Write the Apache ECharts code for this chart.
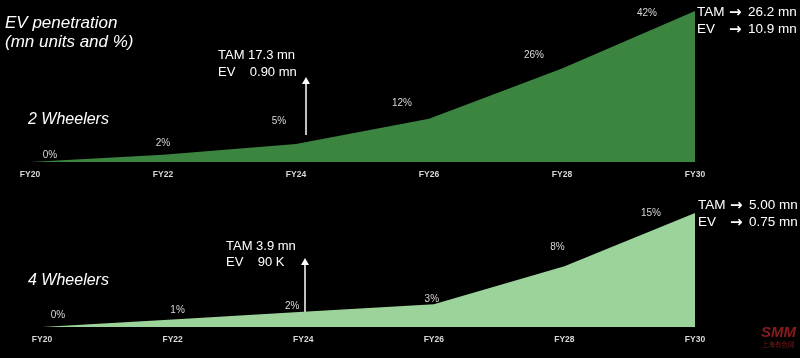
<!DOCTYPE html>
<html><head><meta charset="utf-8">
<script src="https://cdn.jsdelivr.net/npm/echarts@6/dist/echarts.min.js"></script>
<style>html,body{margin:0;padding:0;background:#000;}#c{width:800px;height:358px;}</style>
</head><body><div id="c"></div>
<script>
const years = ['FY20','FY22','FY24','FY26','FY28','FY30'];
const twoWheelerPct = [0, 2, 5, 12, 26, 42];
const fourWheelerPct = [0, 1, 2, 3, 8, 15];

// label offsets (style only)
const topOffsets = [[20,-7],[0,-12],[-17,-23],[-27,-16],[-28,-13],[-48,2]];
const botOffsets = [[16,-12],[5,-9],[-11,-6],[-2,-5],[-7,-19],[-44,0]];

function mkData(vals, offs){
  return vals.map((v,i)=>({value:v, label:{offset:offs[i]}}));
}
const font = 'Liberation Sans, Arial, sans-serif';
const chart = echarts.init(document.getElementById('c'));
const axisX = (gi, margin) => ({
  type:'category', gridIndex:gi, data:years, boundaryGap:false,
  axisLine:{show:false}, axisTick:{show:false},
  axisLabel:{color:'#d8d8d8', fontSize:8.5, fontWeight:'bold', fontFamily:font, margin:margin, interval:0}
});
const axisY = (gi, max) => ({type:'value', gridIndex:gi, min:0, max:max, show:false, splitLine:{show:false}});
const series = (idx, vals, offs, color) => ({
  type:'line', xAxisIndex:idx, yAxisIndex:idx, data:mkData(vals, offs),
  symbol:'circle', symbolSize:1, itemStyle:{color:'rgba(0,0,0,0)'},
  lineStyle:{width:0}, areaStyle:{color:color, opacity:1},
  label:{show:true, position:'inside', color:'#d8d8d8', fontSize:10, fontFamily:font,
    formatter:p=>p.value+'%'},
  silent:true, animation:false
});
const txt = (x,y,t,size,italic) => ({
  type:'text', left:x, top:y,
  style:{text:t, fill:'#fff', fontSize:size, fontFamily:font, fontStyle:italic?'italic':'normal'}
});
const arrowTxt = (x,y) => ({
  type:'text', left:x, top:y,
  style:{text:'\u2192', fill:'#fff', fontSize:15, fontWeight:'bold', fontFamily:'DejaVu Sans'}
});
chart.setOption({
  backgroundColor:'#000',
  animation:false,
  grid:[
    {left:30, right:105, top:11, height:151},
    {left:42, right:105, top:213, height:114}
  ],
  xAxis:[axisX(0,8), axisX(1,8)],
  yAxis:[axisY(0,42), axisY(1,15)],
  series:[
    series(0, twoWheelerPct, topOffsets, '#3b8541'),
    series(1, fourWheelerPct, botOffsets, '#9bd39b')
  ],
  graphic:[
    txt(5, 15, 'EV penetration', 17, true),
    txt(5, 34, '(mn units and %)', 17, true),
    txt(28, 112, '2 Wheelers', 16, true),
    txt(28, 273, '4 Wheelers', 16, true),
    txt(218, 49, 'TAM 17.3 mn', 13, false),
    txt(218, 66, 'EV    0.90 mn', 13, false),
    txt(226, 240, 'TAM 3.9 mn', 13, false),
    txt(226, 256, 'EV    90 K', 13, false),
    txt(697, 5, 'TAM', 13.5, false),
    arrowTxt(729, 6),
    txt(748, 5, '26.2 mn', 13.5, false),
    txt(697, 22, 'EV', 13.5, false),
    arrowTxt(729, 23),
    txt(748, 22, '10.9 mn', 13.5, false),
    txt(698, 198, 'TAM', 13.5, false),
    arrowTxt(730, 199),
    txt(749, 198, '5.00 mn', 13.5, false),
    txt(698, 215, 'EV', 13.5, false),
    arrowTxt(730, 216),
    txt(749, 215, '0.75 mn', 13.5, false),
    {type:'line', shape:{x1:306,y1:135,x2:306,y2:83}, style:{stroke:'#fff', lineWidth:1.5}},
    {type:'polygon', shape:{points:[[302,84],[310,84],[306,77]]}, style:{fill:'#fff'}},
    {type:'line', shape:{x1:305,y1:317,x2:305,y2:264}, style:{stroke:'#fff', lineWidth:1.5}},
    {type:'polygon', shape:{points:[[301,265],[309,265],[305,258]]}, style:{fill:'#fff'}},
    {type:'text', left:761, top:325, style:{text:'SMM', fill:'#8a1c1c', fontSize:15, fontWeight:'bold', fontStyle:'italic', fontFamily:font}},
    {type:'text', left:762, top:341, style:{text:'上海有色网', fill:'#7a1a1a', fontSize:6.5, fontFamily:'Noto Sans CJK SC'}}
  ]
});
</script></body></html>
